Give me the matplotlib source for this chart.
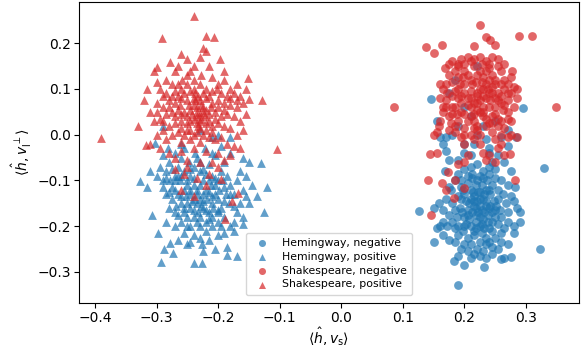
import matplotlib
matplotlib.use("Agg")
import matplotlib.pyplot as plt

# Hemingway, negative (circles)
hem_neg = [(0.189,-0.329),(0.329,-0.072),(0.322,-0.25),(0.295,0.058),(0.145,0.077),(0.126,-0.167),(0.232,-0.289),(0.183,-0.276),(0.189,-0.266),(0.276,-0.268),(0.260,-0.271),(0.151,-0.235),(0.284,-0.005),(0.155,0.03),(0.16,-0.005),(0.165,-0.02),(0.17,-0.035),(0.175,-0.055),(0.20,-0.04),(0.215,-0.02),(0.235,-0.01),(0.26,-0.005),(0.27,-0.025),(0.255,-0.045),(0.245,-0.06),(0.265,-0.06),(0.275,-0.08),(0.282,-0.115),(0.285,-0.16),(0.28,-0.145),(0.29,-0.17),(0.28,-0.20),(0.28,-0.215),(0.265,-0.205),(0.27,-0.24),(0.255,-0.25),(0.245,-0.245),(0.23,-0.255),(0.215,-0.26),(0.205,-0.255),(0.195,-0.25),(0.185,-0.235),(0.175,-0.23),(0.165,-0.22),(0.16,-0.2),(0.165,-0.19),(0.155,-0.205),(0.15,-0.16),(0.158,-0.15),(0.165,-0.165),(0.175,-0.175),(0.18,-0.19),(0.17,-0.14),(0.178,-0.12),(0.185,-0.10),(0.19,-0.085),(0.20,-0.075),(0.21,-0.07),(0.22,-0.065),(0.23,-0.08),(0.24,-0.085),(0.25,-0.095),(0.26,-0.10),(0.27,-0.11),(0.262,-0.13),(0.268,-0.15),(0.258,-0.165),(0.25,-0.18),(0.255,-0.195),(0.245,-0.21),(0.235,-0.225),(0.225,-0.235),(0.215,-0.22),(0.205,-0.225),(0.198,-0.21),(0.19,-0.2),(0.188,-0.18),(0.192,-0.16),(0.195,-0.14),(0.198,-0.12),(0.205,-0.105),(0.212,-0.095),(0.22,-0.10),(0.228,-0.11),(0.235,-0.12),(0.242,-0.13),(0.248,-0.145),(0.24,-0.16),(0.232,-0.17),(0.225,-0.18),(0.218,-0.19),(0.21,-0.2),(0.212,-0.17),(0.208,-0.15),(0.215,-0.135),(0.222,-0.125),(0.23,-0.14),(0.225,-0.155),(0.218,-0.16),(0.205,-0.165),(0.2,-0.18),(0.228,-0.195),(0.238,-0.19),(0.24,-0.205),(0.228,-0.215),(0.218,-0.205),(0.202,-0.195),(0.21,-0.12),(0.2,-0.13),(0.236,-0.1),(0.245,-0.11),(0.255,-0.12),(0.252,-0.155),(0.26,-0.18),(0.27,-0.19),(0.245,-0.17),(0.235,-0.155),(0.215,-0.145),(0.225,-0.14),(0.232,-0.13),(0.218,-0.11),(0.212,-0.085),(0.225,-0.09),(0.24,-0.07),(0.195,-0.1),(0.18,-0.15),(0.185,-0.165),(0.172,-0.2),(0.19,-0.22),(0.2,-0.24),(0.22,-0.25),(0.24,-0.235),(0.25,-0.225),(0.235,-0.27),(0.21,-0.27),(0.2,-0.285),(0.26,-0.235),(0.29,-0.19),(0.22,0.0),(0.23,0.02),(0.21,0.04),(0.19,0.02),(0.25,0.03),(0.27,0.01),(0.2,-0.02),(0.18,0.0),(0.24,-0.03),(0.19,-0.055),(0.185,0.12),(0.175,0.09),(0.22,0.15),(0.168,-0.08),(0.175,-0.115),(0.265,-0.27),(0.21,-0.045),
           (0.215,-0.155),(0.222,-0.17),(0.228,-0.165),(0.235,-0.145),(0.21,-0.14),(0.205,-0.175),(0.218,-0.175),(0.225,-0.2),(0.232,-0.205),(0.215,-0.21),(0.208,-0.185),(0.238,-0.175),(0.242,-0.155),(0.226,-0.125),(0.214,-0.125),(0.202,-0.145),(0.196,-0.17),(0.2,-0.2),(0.23,-0.185),(0.22,-0.145),(0.245,-0.19),(0.25,-0.165),(0.255,-0.14),(0.24,-0.12),(0.205,-0.09),(0.195,-0.115),(0.23,-0.095),(0.25,-0.075),(0.26,-0.215),(0.225,-0.265),(0.235,-0.24),(0.21,-0.24),(0.19,-0.135),(0.185,-0.205),(0.245,-0.26),(0.27,-0.17),(0.275,-0.135),(0.24,-0.04),(0.2,0.06),(0.17,-0.005)]

# Hemingway, positive (triangles)
hem_pos = [(-0.293,-0.279),(-0.24,-0.281),(-0.226,-0.281),(-0.274,-0.258),(-0.185,-0.263),(-0.169,-0.266),(-0.298,-0.216),(-0.278,-0.236),(-0.25,-0.238),(-0.245,-0.235),(-0.226,-0.238),(-0.327,-0.101),(-0.316,-0.115),(-0.307,-0.175),(-0.131,-0.063),(-0.12,-0.115),(-0.126,-0.169),(-0.137,-0.133),(-0.154,-0.09),(-0.15,-0.15),(-0.302,-0.019),(-0.29,0.02),(-0.26,-0.02),(-0.23,0.01),(-0.21,-0.005),(-0.295,-0.07),(-0.3,-0.09),(-0.29,-0.1),(-0.285,-0.08),(-0.28,-0.06),(-0.275,-0.075),(-0.27,-0.09),(-0.265,-0.07),(-0.26,-0.05),(-0.255,-0.08),(-0.25,-0.1),(-0.245,-0.09),(-0.24,-0.07),(-0.235,-0.05),(-0.23,-0.08),(-0.225,-0.1),(-0.22,-0.085),(-0.215,-0.065),(-0.21,-0.09),(-0.205,-0.11),(-0.2,-0.1),(-0.195,-0.08),(-0.19,-0.06),(-0.185,-0.09),(-0.18,-0.11),(-0.175,-0.13),(-0.17,-0.1),(-0.165,-0.08),(-0.16,-0.12),(-0.165,-0.15),(-0.17,-0.17),(-0.175,-0.19),(-0.18,-0.2),(-0.19,-0.18),(-0.195,-0.16),(-0.2,-0.14),(-0.205,-0.13),(-0.21,-0.15),(-0.215,-0.17),(-0.22,-0.19),(-0.225,-0.16),(-0.23,-0.14),(-0.235,-0.12),(-0.24,-0.11),(-0.245,-0.13),(-0.25,-0.15),(-0.255,-0.17),(-0.26,-0.15),(-0.265,-0.13),(-0.27,-0.12),(-0.275,-0.14),(-0.28,-0.16),(-0.285,-0.13),(-0.29,-0.115),(-0.27,-0.17),(-0.26,-0.19),(-0.25,-0.2),(-0.24,-0.18),(-0.23,-0.2),(-0.22,-0.21),(-0.21,-0.2),(-0.2,-0.19),(-0.215,-0.125),(-0.225,-0.13),(-0.235,-0.15),(-0.245,-0.16),(-0.255,-0.12),(-0.262,-0.1),(-0.242,-0.145),(-0.228,-0.155),(-0.218,-0.14),(-0.208,-0.16),(-0.198,-0.12),(-0.188,-0.13),(-0.182,-0.15),(-0.192,-0.1),(-0.212,-0.11),(-0.232,-0.17),(-0.252,-0.135),(-0.268,-0.155),(-0.278,-0.1),(-0.248,-0.06),(-0.238,-0.04),(-0.222,-0.03),(-0.205,-0.045),(-0.195,-0.025),(-0.18,-0.04),(-0.16,-0.05),(-0.15,-0.06),(-0.255,-0.03),(-0.27,-0.04),(-0.282,-0.03),(-0.29,-0.045),(-0.31,-0.08),(-0.285,-0.19),(-0.27,-0.2),(-0.255,-0.215),(-0.23,-0.225),(-0.215,-0.23),(-0.2,-0.22),(-0.19,-0.215),(-0.175,-0.21),(-0.16,-0.195),(-0.185,-0.245),(-0.205,-0.25),(-0.225,-0.255),(-0.265,-0.23),(-0.288,-0.25),(-0.16,-0.18),(-0.145,-0.11),(-0.155,-0.135),(-0.195,-0.2),(-0.21,-0.18),(-0.24,-0.22),(-0.245,-0.2),(-0.2,0.0),(-0.18,-0.005),
           (-0.24,-0.14),(-0.235,-0.13),(-0.225,-0.145),(-0.245,-0.12),(-0.23,-0.11),(-0.22,-0.12),(-0.25,-0.11),(-0.26,-0.09),(-0.27,-0.1),(-0.275,-0.115),(-0.22,-0.165),(-0.23,-0.18),(-0.24,-0.165),(-0.25,-0.18),(-0.21,-0.135),(-0.2,-0.165),(-0.19,-0.145),(-0.205,-0.095),(-0.215,-0.1),(-0.225,-0.075),(-0.24,-0.095),(-0.255,-0.16),(-0.265,-0.175),(-0.235,-0.19),(-0.215,-0.185),(-0.285,-0.095),(-0.265,-0.09),(-0.245,-0.075),(-0.19,-0.115),(-0.18,-0.13),(-0.175,-0.155),(-0.26,-0.135),(-0.28,-0.125),(-0.2,-0.17),(-0.23,-0.06),(-0.21,-0.04)]

# Shakespeare, negative (circles)
shk_neg = [(0.225,0.24),(0.288,0.216),(0.31,0.216),(0.235,0.214),(0.242,0.206),(0.25,0.196),(0.137,0.191),(0.15,0.178),(0.164,0.196),(0.215,0.194),(0.086,0.06),(0.348,0.061),(0.14,-0.099),(0.145,-0.175),(0.144,-0.042),(0.173,-0.081),(0.199,-0.117),(0.183,-0.139),(0.17,-0.12),(0.163,-0.105),(0.282,-0.099),(0.274,-0.042),(0.265,-0.045),(0.25,-0.06),(0.235,-0.055),(0.205,-0.045),(0.225,-0.02),(0.195,-0.005),(0.185,0.005),(0.175,0.01),(0.155,0.005),(0.158,0.02),(0.16,0.03),(0.165,0.05),(0.17,0.06),(0.16,0.08),(0.165,0.1),(0.17,0.11),(0.175,0.13),(0.168,0.145),(0.18,0.16),(0.19,0.15),(0.195,0.165),(0.205,0.17),(0.215,0.165),(0.225,0.17),(0.235,0.16),(0.245,0.17),(0.255,0.15),(0.26,0.14),(0.265,0.12),(0.275,0.125),(0.28,0.105),(0.275,0.09),(0.285,0.08),(0.28,0.06),(0.27,0.05),(0.275,0.03),(0.265,0.015),(0.26,0.0),(0.25,-0.01),(0.255,0.02),(0.245,0.04),(0.25,0.06),(0.26,0.07),(0.255,0.09),(0.265,0.1),(0.25,0.11),(0.245,0.13),(0.235,0.14),(0.24,0.12),(0.23,0.1),(0.235,0.08),(0.24,0.06),(0.23,0.04),(0.235,0.02),(0.22,0.01),(0.21,0.0),(0.2,0.015),(0.19,0.03),(0.2,0.045),(0.21,0.06),(0.22,0.07),(0.225,0.05),(0.215,0.03),(0.205,0.08),(0.195,0.07),(0.185,0.06),(0.18,0.085),(0.19,0.1),(0.2,0.11),(0.21,0.12),(0.22,0.13),(0.215,0.15),(0.2,0.14),(0.19,0.125),(0.18,0.115),(0.195,0.085),(0.21,0.095),(0.225,0.1),(0.228,0.115),(0.238,0.1),(0.245,0.09),(0.255,0.075),(0.262,0.055),(0.24,0.025),(0.225,0.0),(0.2,-0.02),(0.188,0.045),(0.175,0.04),(0.17,0.075),(0.178,0.025),(0.205,0.03),(0.215,0.045),(0.23,0.06),(0.242,0.075),(0.27,0.075),(0.285,0.1),(0.278,0.14),(0.265,0.155),(0.255,0.165),(0.23,0.125),(0.22,0.085),(0.212,0.11),(0.198,0.125),(0.185,0.14),(0.19,0.155),(0.175,0.155),(0.22,0.02),(0.245,0.005),(0.255,-0.03),(0.23,-0.04),(0.24,-0.045),(0.26,-0.02),(0.27,-0.005),(0.275,0.0),(0.285,-0.005),(0.2,-0.06),(0.185,-0.1),(0.19,-0.065),(0.155,-0.04),(0.15,0.0),(0.165,0.06),(0.16,0.11),(0.18,0.06),(0.23,0.085),(0.245,0.105),(0.26,0.085),(0.27,0.11),
           (0.21,0.08),(0.215,0.07),(0.225,0.075),(0.205,0.065),(0.22,0.09),(0.24,0.09),(0.25,0.08),(0.25,0.045),(0.23,0.05),(0.218,0.115),(0.2,0.09),(0.19,0.08),(0.192,0.11),(0.205,0.13),(0.225,0.14),(0.24,0.145),(0.25,0.12),(0.26,0.11),(0.27,0.09),(0.265,0.065),(0.255,0.035),(0.235,0.035),(0.21,0.04),(0.195,0.05),(0.18,0.045),(0.2,0.155),(0.21,0.16),(0.24,0.155),(0.228,0.155),(0.185,0.095),(0.172,0.09),(0.22,0.055),(0.235,0.11),(0.245,0.025),(0.215,0.015),(0.2,0.0),(0.26,0.03),(0.27,0.035),(0.215,-0.01),(0.185,0.02)]

# Shakespeare, positive (triangles)
shk_pos = [(-0.239,0.259),(-0.292,0.212),(-0.219,0.216),(-0.207,0.214),(-0.219,0.183),(-0.26,0.176),(-0.197,0.165),(-0.278,0.158),(-0.305,0.14),(-0.30,0.147),(-0.24,0.151),(-0.191,0.14),(-0.151,0.124),(-0.316,0.10),(-0.128,0.076),(-0.15,0.077),(-0.33,0.018),(-0.39,-0.007),(-0.105,-0.032),(-0.317,-0.022),(-0.24,-0.135),(-0.178,-0.146),(-0.189,-0.185),(-0.168,-0.128),(-0.196,-0.097),(-0.255,-0.085),(-0.235,-0.095),(-0.26,-0.12),(-0.23,0.17),(-0.245,0.14),(-0.25,0.13),(-0.228,0.13),(-0.21,0.125),(-0.2,0.11),(-0.285,0.12),(-0.275,0.11),(-0.295,0.1),(-0.27,0.095),(-0.26,0.1),(-0.25,0.11),(-0.24,0.1),(-0.23,0.11),(-0.22,0.1),(-0.21,0.095),(-0.195,0.09),(-0.185,0.085),(-0.175,0.09),(-0.165,0.085),(-0.16,0.07),(-0.17,0.06),(-0.18,0.065),(-0.19,0.07),(-0.2,0.075),(-0.21,0.07),(-0.22,0.08),(-0.23,0.075),(-0.24,0.08),(-0.25,0.075),(-0.26,0.08),(-0.27,0.07),(-0.28,0.075),(-0.29,0.06),(-0.3,0.07),(-0.31,0.05),(-0.305,0.03),(-0.295,0.035),(-0.285,0.045),(-0.275,0.05),(-0.265,0.055),(-0.255,0.05),(-0.245,0.055),(-0.235,0.06),(-0.225,0.05),(-0.215,0.045),(-0.205,0.05),(-0.195,0.04),(-0.185,0.045),(-0.175,0.04),(-0.165,0.03),(-0.155,0.045),(-0.16,0.01),(-0.17,0.0),(-0.18,0.015),(-0.19,0.02),(-0.2,0.025),(-0.21,0.02),(-0.22,0.025),(-0.23,0.03),(-0.24,0.035),(-0.25,0.025),(-0.26,0.03),(-0.27,0.025),(-0.28,0.02),(-0.29,0.01),(-0.3,0.0),(-0.31,-0.02),(-0.295,-0.03),(-0.285,-0.01),(-0.275,0.0),(-0.265,0.005),(-0.255,0.0),(-0.245,0.01),(-0.235,0.005),(-0.225,0.0),(-0.215,-0.005),(-0.205,-0.01),(-0.195,-0.005),(-0.185,-0.02),(-0.175,-0.025),(-0.165,-0.03),(-0.18,-0.045),(-0.2,-0.04),(-0.22,-0.035),(-0.24,-0.03),(-0.26,-0.035),(-0.28,-0.04),(-0.27,-0.05),(-0.25,-0.055),(-0.23,-0.06),(-0.21,-0.06),(-0.19,-0.055),(-0.235,0.04),(-0.228,0.065),(-0.242,0.045),(-0.232,0.02),(-0.238,0.09),(-0.222,0.04),(-0.248,0.065),(-0.262,0.065),(-0.212,0.06),(-0.202,0.1),(-0.258,0.12),(-0.29,0.085),(-0.32,0.075),(-0.3,0.115),(-0.215,0.15),(-0.19,0.12),(-0.17,0.11),(-0.18,0.1),(-0.155,0.1),(-0.25,0.165),(-0.27,0.14),(-0.265,0.15),(-0.225,0.19),(-0.215,-0.085),(-0.2,-0.07),(-0.22,-0.11),(-0.25,-0.07),(-0.27,-0.075),
           (-0.235,0.05),(-0.23,0.045),(-0.24,0.065),(-0.225,0.06),(-0.245,0.03),(-0.235,0.025),(-0.228,0.035),(-0.22,0.055),(-0.25,0.04),(-0.238,0.075),(-0.232,0.085),(-0.225,0.09),(-0.215,0.085),(-0.245,0.095),(-0.26,0.045),(-0.27,0.04),(-0.28,0.06),(-0.265,0.085),(-0.255,0.09),(-0.215,0.03),(-0.205,0.035),(-0.2,0.06),(-0.19,0.055),(-0.18,0.08),(-0.17,0.075),(-0.23,0.015),(-0.24,0.0),(-0.25,0.01),(-0.26,0.015),(-0.22,0.01),(-0.21,0.005),(-0.23,-0.015),(-0.245,-0.01),(-0.26,-0.015),(-0.29,0.03),(-0.3,0.05),(-0.285,0.09),(-0.275,0.085),(-0.265,0.11),(-0.24,0.12)]

series = [
    ("Hemingway, negative", hem_neg, "o", "#1f77b4"),
    ("Hemingway, positive", hem_pos, "^", "#1f77b4"),
    ("Shakespeare, negative", shk_neg, "o", "#d62728"),
    ("Shakespeare, positive", shk_pos, "^", "#d62728"),
]

fig = plt.figure(figsize=(5.85, 3.49), dpi=100)
ax = fig.add_axes([79/585, 1 - 303/349, 500/585, 301/349])
for label, pts, m, c in series:
    xs = [p[0] for p in pts]
    ys = [p[1] for p in pts]
    ax.scatter(xs, ys, marker=m, color=c, alpha=0.7, s=40, linewidths=0, label=label)

ax.set_xlim(-0.426, 0.386)
ax.set_ylim(-0.368, 0.29)
ax.set_xticks([-0.4, -0.3, -0.2, -0.1, 0.0, 0.1, 0.2, 0.3])
ax.set_yticks([-0.3, -0.2, -0.1, 0.0, 0.1, 0.2])
ax.tick_params(labelsize=10, pad=2.5)
ax.set_xlabel(r"$\langle \hat{h}, v_{\mathrm{s}}\rangle$", fontsize=10, labelpad=0)
ax.set_ylabel(r"$\langle \hat{h}, v_{\mathrm{l}}^{\perp}\rangle$", fontsize=10, labelpad=2)
ax.legend(loc="lower left", bbox_to_anchor=(0.334, 0.027), borderaxespad=0, fontsize=7.8,
          frameon=True, handletextpad=0.8, borderpad=0.5, labelspacing=0.35,
          markerscale=0.8)

fig.savefig("out.png", dpi=100)
